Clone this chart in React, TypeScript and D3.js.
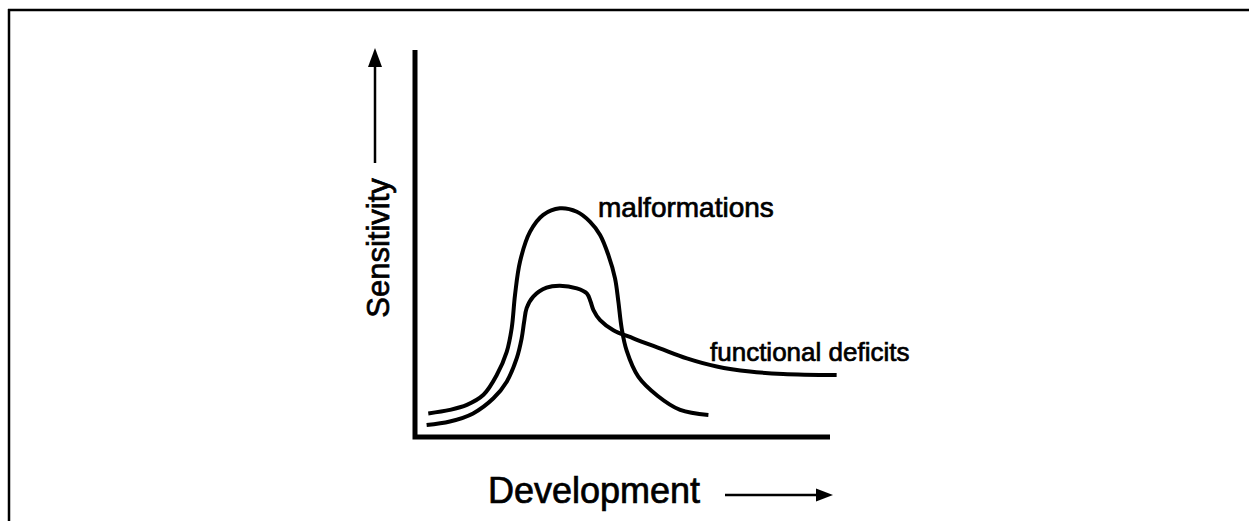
import React, { useEffect, useRef } from "react";
import * as d3 from "d3";

// Malformations curve (x: development 0-100, y: sensitivity 0-100)
const malformX = [3.2, 8.4, 12.5, 16.5, 19.7, 22.1, 23.3, 24.1, 25.3, 27.7, 30.9, 34.9, 39.0, 42.2, 44.6, 46.6, 48.2, 49.0, 49.8, 51.0, 53.8, 58.5, 63.9, 70.7];
const malformY = [6.1, 7.0, 8.3, 10.9, 16.0, 22.0, 28.1, 36.7, 45.3, 53.0, 57.4, 59.1, 58.2, 55.6, 52.2, 47.0, 41.0, 35.0, 28.1, 22.3, 15.6, 10.6, 7.0, 5.7];

// Functional deficits curve
const funcX = [2.8, 8.4, 14.0, 18.9, 22.1, 24.5, 25.7, 26.3, 26.9, 28.5, 31.7, 34.9, 39.0, 41.4, 42.3, 43.0, 44.6, 47.8, 52.6, 59.0, 65.5, 72.7, 80.7, 88.7, 101.6];
const funcY = [3.1, 4.0, 6.1, 10.0, 14.3, 20.3, 25.5, 29.8, 33.3, 36.3, 38.6, 39.1, 38.4, 37.1, 35.0, 32.8, 30.2, 27.6, 25.5, 22.9, 20.3, 18.2, 16.9, 16.3, 16.0];

const labels = {
  y: "Sensitivity",
  x: "Development",
  malform: "malformations",
  func: "functional deficits",
};

const W = 1249;
const H = 521;

export default function App() {
  const ref = useRef<SVGSVGElement>(null);

  useEffect(() => {
    const svg = d3.select(ref.current);
    svg.selectAll("*").remove();

    const x = d3.scaleLinear().domain([0, 100]).range([415, 830]);
    const y = d3.scaleLinear().domain([0, 100]).range([437, 50]);

    const font = "Liberation Sans, Arial, Helvetica, sans-serif";

    // outer frame (top and left edges)
    svg.append("line").attr("x1", 8).attr("y1", 10).attr("x2", W).attr("y2", 10)
      .attr("stroke", "#000").attr("stroke-width", 2.5);
    svg.append("line").attr("x1", 9).attr("y1", 9).attr("x2", 9).attr("y2", H)
      .attr("stroke", "#000").attr("stroke-width", 2.5);

    // axes
    svg.append("path")
      .attr("d", `M${x(0)},${y(100)} L${x(0)},${y(0)} L${x(100)},${y(0)}`)
      .attr("fill", "none").attr("stroke", "#000").attr("stroke-width", 5)
      .attr("stroke-linejoin", "miter");

    const line = d3.line<[number, number]>()
      .x(d => x(d[0])).y(d => y(d[1]))
      .curve(d3.curveCatmullRom.alpha(0.5));

    const mData: [number, number][] = malformX.map((v, i) => [v, malformY[i]]);
    const fData: [number, number][] = funcX.map((v, i) => [v, funcY[i]]);

    svg.append("path").attr("d", line(mData) as string)
      .attr("fill", "none").attr("stroke", "#000").attr("stroke-width", 4)
      .attr("stroke-linecap", "butt");
    svg.append("path").attr("d", line(fData) as string)
      .attr("fill", "none").attr("stroke", "#000").attr("stroke-width", 4)
      .attr("stroke-linecap", "butt");

    const txt = (sel: any) =>
      sel.attr("font-family", font).attr("fill", "#000")
        .attr("stroke", "#000").attr("stroke-width", 0.7);

    // curve labels
    txt(svg.append("text").attr("x", 598).attr("y", 217).attr("font-size", 28)).text(labels.malform);
    txt(svg.append("text").attr("x", 710).attr("y", 361).attr("font-size", 26)).text(labels.func);

    // Y label + arrow
    txt(svg.append("text")
      .attr("transform", `translate(389,248) rotate(-90)`)
      .attr("text-anchor", "middle")
      .attr("font-size", 31)).text(labels.y);
    svg.append("line").attr("x1", 375).attr("y1", 163).attr("x2", 375).attr("y2", 62)
      .attr("stroke", "#000").attr("stroke-width", 2.5);
    svg.append("path").attr("d", "M375,48 L368,67 L382,67 Z").attr("fill", "#000");

    // X label + arrow
    txt(svg.append("text").attr("x", 488).attr("y", 503).attr("font-size", 36)).text(labels.x);
    svg.append("line").attr("x1", 725).attr("y1", 495).attr("x2", 820).attr("y2", 495)
      .attr("stroke", "#000").attr("stroke-width", 2.5);
    svg.append("path").attr("d", "M833,495 L816,488.5 L816,501.5 Z").attr("fill", "#000");
  }, []);

  return (
    <svg
      ref={ref}
      width={W}
      height={H}
      style={{ position: "absolute", left: 0, top: 0, background: "#fff" }}
    />
  );
}
